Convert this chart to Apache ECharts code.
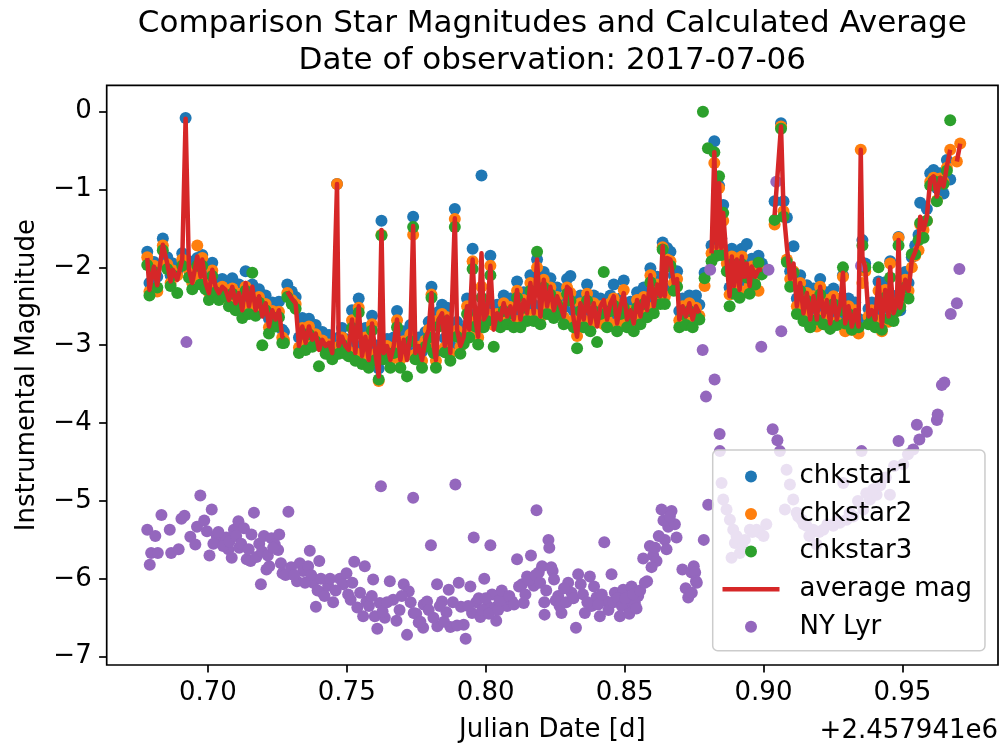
<!DOCTYPE html>
<html><head><meta charset="utf-8">
<script src="https://cdn.jsdelivr.net/npm/echarts@6/dist/echarts.min.js"></script>
<style>html,body{margin:0;padding:0;background:#fff}#c{width:1003px;height:748px}</style>
</head><body><div id="c"></div>
<script>
const titleLines = ['Comparison Star Magnitudes and Calculated Average', 'Date of observation: 2017-07-06'];
const xAxisTitle = 'Julian Date [d]';
const yAxisTitle = 'Instrumental Magnitude';
const offsetLabel = '+2.457941e6';
const seriesNames = ['chkstar1', 'chkstar2', 'chkstar3', 'average mag', 'NY Lyr'];
const xTicks = [0.70, 0.75, 0.80, 0.85, 0.90, 0.95];
const yTicks = [-7, -6, -5, -4, -3, -2, -1, 0];

// Julian date minus 2457941 for the comparison stars
const jd = [
0.6782,0.6790,0.6806,0.6818,0.6838,0.6854,0.6866,0.6874,0.6890,0.6908,
0.6920,0.6932,0.6944,0.6962,0.6974,0.6980,0.6992,0.7004,0.7016,0.7028,
0.7040,0.7052,0.7064,0.7076,0.7088,0.7100,0.7112,0.7124,0.7136,0.7148,
0.7160,0.7172,0.7184,0.7196,0.7208,0.7220,0.7232,0.7244,0.7256,0.7268,
0.7274,0.7280,0.7286,0.7302,0.7316,0.7328,0.7340,0.7352,0.7364,0.7376,
0.7388,0.7400,0.7412,0.7424,0.7436,0.7448,0.7465,0.7471,0.7483,0.7495,
0.7507,0.7519,0.7531,0.7543,0.7555,0.7567,0.7579,0.7591,0.7603,0.7615,
0.7625,0.7633,0.7645,0.7657,0.7669,0.7681,0.7693,0.7705,0.7717,0.7729,
0.7739,0.7747,0.7759,0.7771,0.7783,0.7795,0.7805,0.7813,0.7821,0.7831,
0.7843,0.7853,0.7861,0.7873,0.7889,0.7897,0.7909,0.7921,0.7933,0.7941,
0.7953,0.7963,0.7973,0.7985,0.7993,0.8005,0.8017,0.8029,0.8041,0.8053,
0.8065,0.8077,0.8089,0.8101,0.8113,0.8125,0.8137,0.8149,0.8161,0.8173,
0.8185,0.8197,0.8209,0.8221,0.8233,0.8245,0.8257,0.8269,0.8281,0.8293,
0.8305,0.8317,0.8329,0.8341,0.8353,0.8365,0.8377,0.8389,0.8401,0.8413,
0.8425,0.8437,0.8449,0.8461,0.8473,0.8485,0.8497,0.8509,0.8521,0.8533,
0.8545,0.8557,0.8569,0.8581,0.8593,0.8605,0.8617,0.8629,0.8637,0.8645,
0.8653,0.8665,0.8677,0.8689,0.8697,0.8709,0.8721,0.8733,0.8745,0.8757,
0.8769,0.8782,0.8788,0.8800,0.8813,0.8823,0.8831,0.8840,0.8848,0.8855,
0.8868,0.8878,0.8886,0.8894,0.8904,0.8914,0.8922,0.8931,0.8940,0.8950,
0.8958,0.8970,0.8982,0.8994,0.9017,0.9040,0.9063,0.9072,0.9084,0.9096,
0.9108,0.9120,0.9132,0.9144,0.9156,0.9168,0.9180,0.9192,0.9204,0.9216,
0.9228,0.9240,0.9252,0.9264,0.9276,0.9286,0.9294,0.9306,0.9318,0.9330,
0.9342,0.9350,0.9356,0.9366,0.9378,0.9390,0.9402,0.9414,0.9426,0.9438,
0.9450,0.9456,0.9468,0.9480,0.9486,0.9492,0.9510,0.9522,0.9534,0.9546,
0.9558,0.9564,0.9576,0.9588,0.9600,0.9612,0.9624,0.9636,0.9648,0.9660,
0.9672,0.9684,0.9696,0.9708
];
const chk1 = [
-1.80,-2.20,-1.93,-2.12,-1.63,-1.87,-2.10,-1.95,-2.05,-1.82,
-0.08,-1.92,-2.12,-1.88,-2.04,-1.84,-2.10,-2.25,-1.94,-2.16,
-2.24,-2.15,-2.20,-2.33,-2.14,-2.36,-2.22,-2.45,-2.05,-2.40,
-2.22,-2.45,-2.28,-2.42,-2.36,-2.66,-2.45,-2.57,-2.44,-2.80,
-2.83,null,-2.22,-2.31,-2.38,-2.90,-2.65,-2.87,-2.66,-2.82,
-2.74,-2.92,-2.83,-2.90,-2.87,-3.00,-0.93,-2.90,-2.78,-2.92,
-2.96,-2.55,-3.00,-2.40,-3.05,-2.78,-3.08,-2.62,-3.00,-3.30,
-1.40,-3.00,-2.92,-3.08,-2.90,-2.56,-3.10,-2.82,-3.05,-2.74,
-1.35,-3.00,-2.90,-3.08,-2.83,-2.70,-2.25,-2.91,-3.08,-2.57,
-2.48,-2.91,-2.52,-3.00,-1.25,-2.70,-2.90,-2.79,-2.40,-2.70,
-1.76,-2.57,-2.78,-0.82,-2.56,-2.48,-1.85,-2.64,-2.48,-2.56,
-2.36,-2.52,-2.40,-2.56,-2.18,-2.56,-2.32,-2.48,-2.10,-2.48,
-1.90,-2.52,-2.06,-2.40,-2.14,-2.44,-2.26,-2.40,-2.52,-2.15,
-2.11,-2.56,-2.76,-2.36,-2.56,-2.22,-2.62,-2.36,-2.62,-2.40,
-2.47,-2.56,-2.36,-2.22,-2.62,-2.40,-2.17,-2.56,-2.44,-2.62,
-2.32,-2.52,-2.26,-2.45,-2.01,-2.40,-2.12,-2.26,-1.68,-2.27,
-1.75,-1.80,-2.10,-2.05,-2.56,-2.40,-2.53,-2.36,-2.56,-2.36,
-2.48,null,-2.07,null,-1.72,-0.38,-1.62,-0.95,-1.63,-1.20,
-1.85,-2.26,-1.76,-2.14,-1.80,-2.18,-1.76,-2.00,-1.70,-2.14,
-1.89,-2.02,-1.85,-1.95,null,-1.15,-0.15,-1.15,-1.36,-2.05,
-1.73,-2.40,-2.10,-2.50,-2.23,-2.58,-2.27,-2.58,-2.15,-2.53,
-2.32,-2.63,-2.27,-2.57,-2.40,-2.10,-2.62,-2.40,-2.68,-2.45,
-2.66,null,-1.65,-1.95,-2.53,-2.45,-2.57,-2.18,-2.66,-2.19,
-2.53,-1.92,-2.49,-2.36,-1.61,-2.55,-2.06,-2.20,-1.87,-1.72,
-1.58,-1.17,-1.42,-1.25,-0.79,-0.75,-0.98,-0.79,-1.05,-0.62,
-0.87,null,null,null
];
const chk2 = [
-1.87,-2.31,-1.98,-2.31,-1.72,-1.96,-2.20,-2.04,-2.10,-1.90,
null,-2.04,-2.20,-1.72,-2.10,-1.88,-2.22,-2.32,-2.04,-2.27,
-2.33,-2.25,-2.30,-2.43,-2.27,-2.47,-2.34,-2.55,-2.25,-2.50,
-2.46,-2.58,-2.38,-2.47,-2.47,-2.77,-2.56,-2.68,-2.57,-2.90,
-2.93,null,-2.33,-2.42,-2.47,-3.03,-2.78,-2.98,-2.76,-2.95,
-2.86,-3.00,-2.94,-3.02,-2.99,-3.12,-0.93,-3.02,-2.90,-3.00,
-3.08,-2.68,-3.10,-2.52,-3.13,-2.90,-3.20,-2.73,-3.11,-3.46,
-1.58,-3.12,-3.01,-3.20,-3.03,-2.68,-3.18,-2.95,-3.12,-2.86,
-1.58,-3.12,-3.02,-3.20,-2.94,-2.80,-2.35,-3.02,-3.20,-2.68,
-2.60,-3.03,-2.64,-3.10,-1.38,-2.81,-3.02,-2.90,-2.50,-2.80,
-1.92,-2.68,-2.90,-2.25,-2.68,-2.60,-1.98,-2.74,-2.60,-2.68,
-2.46,-2.64,-2.51,-2.68,-2.30,-2.68,-2.42,-2.60,-2.20,-2.60,
-2.00,-2.64,-2.16,-2.50,-2.26,-2.56,-2.38,-2.50,-2.64,-2.26,
-2.33,-2.68,-2.88,-2.46,-2.68,-2.34,-2.72,-2.46,-2.70,-2.50,
-2.73,-2.68,-2.46,-2.40,-2.72,-2.50,-2.29,-2.68,-2.56,-2.72,
-2.42,-2.64,-2.38,-2.56,-2.10,-2.51,-2.22,-2.38,-1.74,-2.37,
-1.90,-1.92,-2.20,-2.15,-2.68,-2.50,-2.62,-2.46,-2.68,-2.52,
-2.62,null,-2.24,null,-1.82,-0.66,-1.78,-0.98,-1.78,-1.40,
-1.95,-2.35,-1.86,-2.24,-1.90,-2.30,-1.86,-2.32,-2.02,-2.24,
-1.99,-2.12,-2.30,-2.05,null,-1.45,-0.19,-1.28,-1.90,-2.15,
-2.05,-2.50,-2.20,-2.58,-2.33,-2.66,-2.37,-2.76,-2.25,-2.63,
-2.42,-2.74,-2.37,-2.70,-2.50,-2.12,-2.82,-2.50,-2.80,-2.55,
-2.85,-0.49,-2.20,-2.05,-2.63,-2.55,-2.67,-2.30,-2.82,-2.29,
-2.70,-1.95,-2.59,-2.46,-1.62,-2.50,-2.16,-2.30,-2.00,-1.85,
-1.78,-1.45,-1.52,-1.40,-0.90,-0.85,-1.14,-0.86,-0.90,-0.72,
-0.49,null,-0.64,-0.41
];
const chk3 = [
-1.97,-2.36,-2.06,-2.26,-1.78,-2.02,-2.24,-2.10,-2.33,-1.98,
null,-2.13,-2.28,-1.98,-2.22,-1.98,-2.28,-2.42,-2.11,-2.32,
-2.42,-2.35,-2.37,-2.50,-2.34,-2.55,-2.43,-2.65,-2.30,-2.60,
-2.07,-2.62,-2.45,-3.00,-2.55,-2.85,-2.64,-2.76,-2.64,-2.97,
-2.97,null,-2.38,-2.47,-2.53,-3.10,-2.85,-3.06,-2.86,-3.02,
-2.95,-3.27,-3.02,-3.11,-3.05,-3.18,null,-3.11,-2.99,-3.11,
-3.14,-2.78,-3.20,-2.58,-3.24,-2.99,-3.29,-2.81,-3.19,-3.44,
-1.59,-3.18,-3.10,-3.29,-3.10,-2.77,-3.29,-3.02,-3.40,-2.95,
-1.48,-3.18,-3.11,-3.29,-3.02,-2.90,-2.39,-3.10,-3.29,-2.76,
-2.69,-3.09,-2.73,-3.20,-1.48,-2.89,-3.11,-2.98,-2.60,-2.90,
-2.02,-2.76,-2.99,-2.39,-2.77,-2.69,-2.10,-3.02,-2.69,-2.77,
-2.56,-2.73,-2.59,-2.77,-2.39,-2.77,-2.52,-2.69,-2.30,-2.69,
-1.80,-2.73,-2.26,-2.60,-2.35,-2.65,-2.47,-2.60,-2.73,-2.34,
-2.43,-2.77,-3.04,-2.56,-2.77,-2.43,-2.82,-2.56,-2.96,-2.60,
-2.06,-2.77,-2.56,-2.49,-2.82,-2.60,-2.52,-2.77,-2.65,-2.82,
-2.52,-2.73,-2.47,-2.64,-2.19,-2.59,-2.32,-2.47,-1.77,-2.47,
-1.99,-1.98,-2.30,-2.25,-2.77,-2.60,-2.74,-2.56,-2.77,-2.62,
-2.67,0.00,-2.14,-0.47,-1.92,-0.52,-1.85,-0.83,-1.84,-1.30,
-2.05,-2.50,-1.96,-2.34,-2.00,-2.39,-1.96,-2.04,-2.13,-2.34,
-2.09,-2.22,-1.94,-2.09,null,-1.39,-0.22,-1.35,-1.93,-2.25,
-2.07,-2.60,-2.30,-2.69,-2.43,-2.77,-2.47,-2.67,-2.35,-2.73,
-2.52,-2.79,-2.47,-2.74,-2.55,-2.00,-2.72,-2.60,-2.80,-2.65,
-2.77,null,-1.72,-2.00,-2.73,-2.65,-2.77,-2.00,-2.80,-2.39,
-2.66,-2.13,-2.69,-2.56,-1.72,-2.51,-2.26,-2.40,-1.83,-1.83,
-1.65,-1.43,-1.62,-1.40,-0.95,-0.89,-1.15,-0.90,-0.93,-0.76,
-0.11,null,null,null
];
const avgMag = [
-1.88,-2.29,-1.99,-2.23,-1.71,-1.95,-2.18,-2.03,-2.16,-1.90,
-0.09,-2.03,-2.20,-1.86,-2.12,-1.90,-2.20,-2.33,-2.03,-2.25,
-2.33,-2.25,-2.29,-2.42,-2.25,-2.46,-2.33,-2.55,-2.20,-2.50,
-2.25,-2.55,-2.37,-2.63,-2.46,-2.76,-2.55,-2.67,-2.55,-2.89,
-2.91,null,-2.31,-2.40,-2.46,-3.01,-2.76,-2.97,-2.76,-2.93,
-2.85,-3.06,-2.93,-3.01,-2.97,-3.10,-0.93,-3.01,-2.89,-3.01,
-3.06,-2.67,-3.10,-2.50,-3.14,-2.89,-3.19,-2.72,-3.10,-3.40,
-1.52,-3.10,-3.01,-3.19,-3.01,-2.67,-3.19,-2.93,-3.19,-2.85,
-1.47,-3.10,-3.01,-3.19,-2.93,-2.80,-2.33,-3.01,-3.19,-2.67,
-2.59,-3.01,-2.63,-3.10,-1.37,-2.80,-3.01,-2.89,-2.50,-2.80,
-1.90,-2.67,-2.89,-1.82,-2.67,-2.59,-1.98,-2.80,-2.59,-2.67,
-2.46,-2.63,-2.50,-2.67,-2.29,-2.67,-2.42,-2.59,-2.20,-2.59,
-1.90,-2.63,-2.16,-2.50,-2.25,-2.55,-2.37,-2.50,-2.63,-2.25,
-2.29,-2.67,-2.89,-2.46,-2.67,-2.33,-2.72,-2.46,-2.76,-2.50,
-2.42,-2.67,-2.46,-2.37,-2.72,-2.50,-2.33,-2.67,-2.55,-2.72,
-2.42,-2.63,-2.37,-2.55,-2.10,-2.50,-2.22,-2.37,-1.73,-2.37,
-1.88,-1.90,-2.20,-2.15,-2.67,-2.50,-2.63,-2.46,-2.67,-2.50,
-2.59,null,null,null,-1.82,-0.52,-1.75,-0.92,-1.75,-1.30,
-1.95,-2.37,-1.86,-2.24,-1.90,-2.29,-1.86,-2.12,-1.95,-2.24,
-1.99,-2.12,-2.03,-2.03,null,-1.33,-0.19,-1.26,-1.73,-2.15,
-1.95,-2.50,-2.20,-2.59,-2.33,-2.67,-2.37,-2.67,-2.25,-2.63,
-2.42,-2.72,-2.37,-2.67,-2.48,-2.07,-2.72,-2.50,-2.76,-2.55,
-2.76,-0.49,-1.86,-2.00,-2.63,-2.55,-2.67,-2.16,-2.76,-2.29,
-2.63,-2.00,-2.59,-2.46,-1.65,-2.52,-2.16,-2.30,-1.90,-1.80,
-1.67,-1.35,-1.52,-1.35,-0.88,-0.83,-1.09,-0.85,-0.96,-0.70,
-0.49,null,-0.64,-0.41
];

// NY Lyr (target star)
const nyJd = [
0.6782,0.6791,0.6796,0.6811,0.6820,0.6833,0.6863,0.6868,0.6895,0.6905,
0.6916,0.6923,0.6937,0.6955,0.6961,0.6973,0.6987,0.6997,0.7006,0.7014,
0.7032,0.7044,0.7066,0.7074,0.7086,0.7094,0.7110,0.7113,0.7130,0.7140,
0.7154,0.7157,0.7166,0.7185,0.7191,0.7202,0.7211,0.7221,0.7229,0.7241,
0.7253,0.7257,0.7263,0.7269,0.7290,0.7321,0.7331,0.7343,0.7361,0.7367,
0.7379,0.7389,0.7401,0.7413,0.7433,0.7451,0.7475,0.7487,0.7499,0.7514,
0.7527,0.7538,0.7559,0.7565,0.7571,0.7595,0.7601,0.7610,0.7619,0.7623,
0.7637,0.7655,0.7667,0.7679,0.7705,0.7717,0.7723,0.7739,0.7741,0.7759,
0.7775,0.7777,0.7789,0.7803,0.7825,0.7826,0.7843,0.7859,0.7867,0.7873,
0.7891,0.7903,0.7911,0.7921,0.7928,0.7945,0.7951,0.7957,0.7966,0.7981,
0.7995,0.8007,0.8017,0.8023,0.8035,0.8038,0.8065,0.8077,0.8095,0.8113,
0.8131,0.8137,0.8149,0.8163,0.8173,0.8183,0.8191,0.8203,0.8211,0.8212,
0.8226,0.8229,0.8241,0.8246,0.8261,0.8273,0.8297,0.8309,0.8325,0.8333,
0.8342,0.8357,0.8375,0.8381,0.8399,0.8411,0.8427,0.8435,0.8453,0.8465,
0.8483,0.8495,0.8509,0.8525,0.8537,0.8549,0.8567,0.8581,0.8591,0.8603,
0.8615,0.8633,0.8645,0.8657,0.8669,0.8681,0.8687,0.8708,0.8720,0.8729,
0.8741,0.8742,0.8749,0.8754,0.8757,0.8760,0.8781,0.8785,0.8793,0.8801,
0.8808,0.8824,0.8842,0.8843,0.8849,0.8855,0.8867,0.8879,0.8885,0.8891,
0.8897,0.8915,0.8933,0.8951,0.8975,0.8987,0.8992,0.9018,0.9033,0.9046,
0.9050,0.9059,0.9064,0.9077,0.9083,0.9095,0.9107,0.9119,0.9137,0.9155,
0.9179,0.9191,0.9215,0.9251,0.9275,0.9287,0.9299,0.9323,0.9351,0.9353,
0.9359,0.9383,0.9407,0.9455,0.9486,0.9503,0.9539,0.9552,0.9561,0.9588,
0.9624,0.9627,0.9642,0.9651,0.9674,0.9696,0.9705,
0.7020,0.7038,0.7055,0.7078,0.7102,0.7120,0.7147,0.7175,0.7195,0.7216,
0.7235,0.7280,0.7300,0.7310,0.7350,0.7372,0.7395,0.7407,0.7420,0.7440,
0.7460,0.7505,0.7520,0.7548,0.7580,0.7590,0.7629,0.7645,0.7690,0.7698,
0.7730,0.7750,0.7765,0.7795,0.7812,0.7835,0.7850,0.7882,0.7897,0.7937,
0.7975,0.7988,0.8000,0.8012,0.8045,0.8050,0.8058,0.8085,0.8102,0.8120,
0.8143,0.8156,0.8180,0.8196,0.8218,0.8236,0.8252,0.8266,0.8282,0.8290,
0.8316,0.8350,0.8366,0.8390,0.8405,0.8418,0.8442,0.8460,0.8475,0.8490,
0.8502,0.8517,0.8531,0.8543,0.8556,0.8573,0.8597,0.8610,0.8623,0.8640,
0.8651,0.8663,0.8903,0.8925,0.8960,0.9000,0.9010,0.9125,0.9145,0.9165,
0.9200,0.9230,0.9265,0.9310,0.9340,0.9370,0.9395,0.9420,0.9440,0.9470,
0.9520
];
const nyMag = [
-5.37,-5.82,-5.67,-5.45,-5.67,-5.18,-5.37,-5.67,-5.62,-5.23,
-5.19,-2.96,-5.46,-5.56,-5.33,-4.93,-5.25,-5.39,-5.70,-5.11,
-5.45,-5.50,-5.47,-5.62,-5.73,-5.37,-5.26,-5.60,-5.35,-5.75,
-5.77,-5.43,-5.15,-5.55,-6.07,-5.45,-5.88,-5.84,-5.48,-5.56,
-5.63,-5.43,-5.80,-5.93,-5.14,-6.03,-5.80,-5.90,-5.84,-5.64,
-6.05,-6.36,-5.77,-6.18,-6.09,-6.30,-6.00,-6.07,-5.93,-6.27,
-5.78,-6.37,-6.48,-5.84,-6.29,-6.01,-6.48,-6.64,-6.31,-4.81,
-6.50,-6.03,-6.27,-6.54,-6.07,-6.72,-6.16,-4.96,-6.44,-6.56,
-6.63,-6.33,-6.29,-5.57,-6.07,-6.61,-6.29,-6.43,-6.14,-6.62,
-4.79,-6.05,-6.36,-6.59,-6.77,-6.10,-6.44,-5.47,-6.30,-6.49,
-6.00,-6.35,-5.57,-6.20,-6.37,-6.54,-6.24,-6.35,-6.29,-5.75,
-6.07,-6.31,-5.97,-5.70,-6.09,-5.12,-5.92,-5.84,-6.30,-6.46,
-5.50,-5.60,-5.90,-6.01,-6.22,-6.44,-6.05,-6.18,-6.63,-5.94,
-6.07,-6.44,-5.97,-6.35,-6.24,-6.48,-5.53,-6.29,-5.94,-6.18,
-6.48,-6.14,-6.33,-6.10,-6.31,-6.22,-5.74,-6.03,-5.58,-5.70,
-5.77,-5.11,-5.50,-5.33,-5.13,-5.30,-5.47,-5.88,-6.12,-6.24,
-5.92,-6.18,-5.84,-5.92,-6.03,-6.05,-3.06,-5.50,-3.66,-5.05,
-2.03,-3.44,-4.14,-4.36,-4.77,-4.98,-5.11,-5.24,-5.73,-5.37,
-5.54,-5.67,-5.50,-5.37,-5.37,-5.41,-3.02,-2.03,-4.08,-0.90,
-4.22,-4.36,-2.82,-5.11,-4.60,-4.79,-4.98,-5.15,-5.24,-5.32,
-5.37,-5.56,-5.37,-5.32,-5.28,-4.77,-5.24,-5.20,-1.98,-4.36,
-5.11,-4.98,-4.92,-4.92,-4.23,-4.53,-4.34,-4.02,-4.21,-4.11,
-3.96,-3.89,-3.51,-3.48,-2.60,-2.46,-2.02,
-5.55,-5.40,-5.58,-5.52,-5.45,-5.55,-5.62,-5.72,-5.65,-5.70,
-5.60,-5.95,-5.85,-5.95,-6.05,-5.95,-6.15,-6.00,-6.22,-6.00,
-6.15,-6.20,-6.05,-6.18,-6.35,-6.22,-6.42,-6.30,-6.40,-6.22,
-6.30,-6.45,-6.55,-6.40,-6.50,-6.35,-6.55,-6.30,-6.60,-6.35,
-6.25,-6.40,-6.25,-6.45,-6.40,-6.28,-6.15,-6.22,-6.33,-6.10,
-6.20,-6.02,-5.95,-6.05,-6.15,-5.85,-6.28,-6.35,-6.12,-6.30,
-6.25,-6.20,-6.30,-6.10,-6.33,-6.20,-6.40,-6.30,-6.25,-6.35,
-6.25,-6.45,-6.20,-6.38,-6.15,-6.05,-5.85,-5.60,-5.45,-5.25,
-5.62,-5.20,-5.45,-5.60,-5.40,-5.45,-5.30,-5.20,-5.30,-5.45,
-5.40,-5.30,-5.25,-5.15,-5.00,-4.90,-4.85,-4.80,-4.70,-4.55,
-4.40
];

const FONT = 'DejaVu Sans';
const colors = ['#1f77b4', '#ff7f0e', '#2ca02c', '#d62728', '#9467bd'];
const pts = (xs, ys) => xs.map((t, i) => [t, ys[i]]).filter(p => p[1] !== null);
const minus = v => (v < 0 ? '\u2212' + Math.abs(v) : String(v));

const chart = echarts.init(document.getElementById('c'), null, { renderer: 'canvas' });
const scatterSeries = (name, data, color) => ({
  name, type: 'scatter', data, symbol: 'circle', symbolSize: 12,
  itemStyle: { color, opacity: 1 }, silent: true, emphasis: { disabled: true }
});
chart.setOption({
  animation: false,
  backgroundColor: '#fff',
  grid: { left: 106.7, right: 5, top: 85.3, bottom: 82.3, show: true, borderColor: '#000', borderWidth: 1.7, backgroundColor: 'transparent' },
  xAxis: {
    type: 'value', min: 0.6636, max: 0.9844,
    name: xAxisTitle, nameLocation: 'middle', nameGap: 65,
    nameTextStyle: { fontFamily: FONT, fontSize: 26, color: '#000', verticalAlign: 'middle' },
    axisLine: { show: false, onZero: false },
    axisTick: { show: true, length: 7.6, lineStyle: { color: '#000', width: 1.7 }, customValues: xTicks },
    axisLabel: { fontFamily: FONT, fontSize: 26, color: '#000', margin: 15, customValues: xTicks, formatter: v => v.toFixed(2) },
    splitLine: { show: false }
  },
  yAxis: {
    type: 'value', min: -7.107, max: 0.3385,
    name: yAxisTitle, nameLocation: 'middle', nameGap: 66, nameRotate: 90,
    nameTextStyle: { fontFamily: FONT, fontSize: 26, color: '#000' },
    axisLine: { show: false, onZero: false },
    axisTick: { show: true, length: 7.6, lineStyle: { color: '#000', width: 1.7 }, customValues: yTicks },
    axisLabel: { fontFamily: FONT, fontSize: 26, color: '#000', margin: 15, customValues: yTicks, formatter: minus },
    splitLine: { show: false }
  },
  legend: {
    orient: 'vertical', left: 712.7, top: 450,
    padding: [13.4, 13, 11, 9.8],
    itemWidth: 57, itemHeight: 12, itemGap: 11.6,
    backgroundColor: 'rgba(255,255,255,0.8)', borderColor: '#cccccc', borderWidth: 1.5, borderRadius: 5,
    textStyle: { fontFamily: FONT, fontSize: 26, color: '#000', lineHeight: 26, padding: [0, 0, 0, 15] },
    selectedMode: false,
    data: [
      { name: seriesNames[0] },
      { name: seriesNames[1] },
      { name: seriesNames[2] },
      { name: seriesNames[3], icon: 'path://M0,0L57,0L57,4.4L0,4.4Z' },
      { name: seriesNames[4] }
    ]
  },
  graphic: [
    { type: 'text', x: 552.3, y: 24, style: { text: titleLines[0], fontFamily: FONT, fontSize: 31, fill: '#000', align: 'center', verticalAlign: 'middle' } },
    { type: 'text', x: 552.3, y: 60.5, style: { text: titleLines[1], fontFamily: FONT, fontSize: 31, fill: '#000', align: 'center', verticalAlign: 'middle' } },
    { type: 'text', x: 998, y: 731, style: { text: offsetLabel, fontFamily: FONT, fontSize: 26, fill: '#000', align: 'right', verticalAlign: 'middle' } }
  ],
  series: [
    scatterSeries(seriesNames[0], pts(jd, chk1), colors[0]),
    scatterSeries(seriesNames[1], pts(jd, chk2), colors[1]),
    scatterSeries(seriesNames[2], pts(jd, chk3), colors[2]),
    {
      name: seriesNames[3], type: 'line', data: jd.map((t, i) => [t, avgMag[i] === null ? '-' : avgMag[i]]),
      symbol: 'none', showSymbol: false, connectNulls: false, silent: true,
      lineStyle: { color: colors[3], width: 4.5, join: 'round' }, itemStyle: { color: colors[3] },
      emphasis: { disabled: true }
    },
    scatterSeries(seriesNames[4], pts(nyJd, nyMag), colors[4])
  ]
});
</script>
</body></html>
